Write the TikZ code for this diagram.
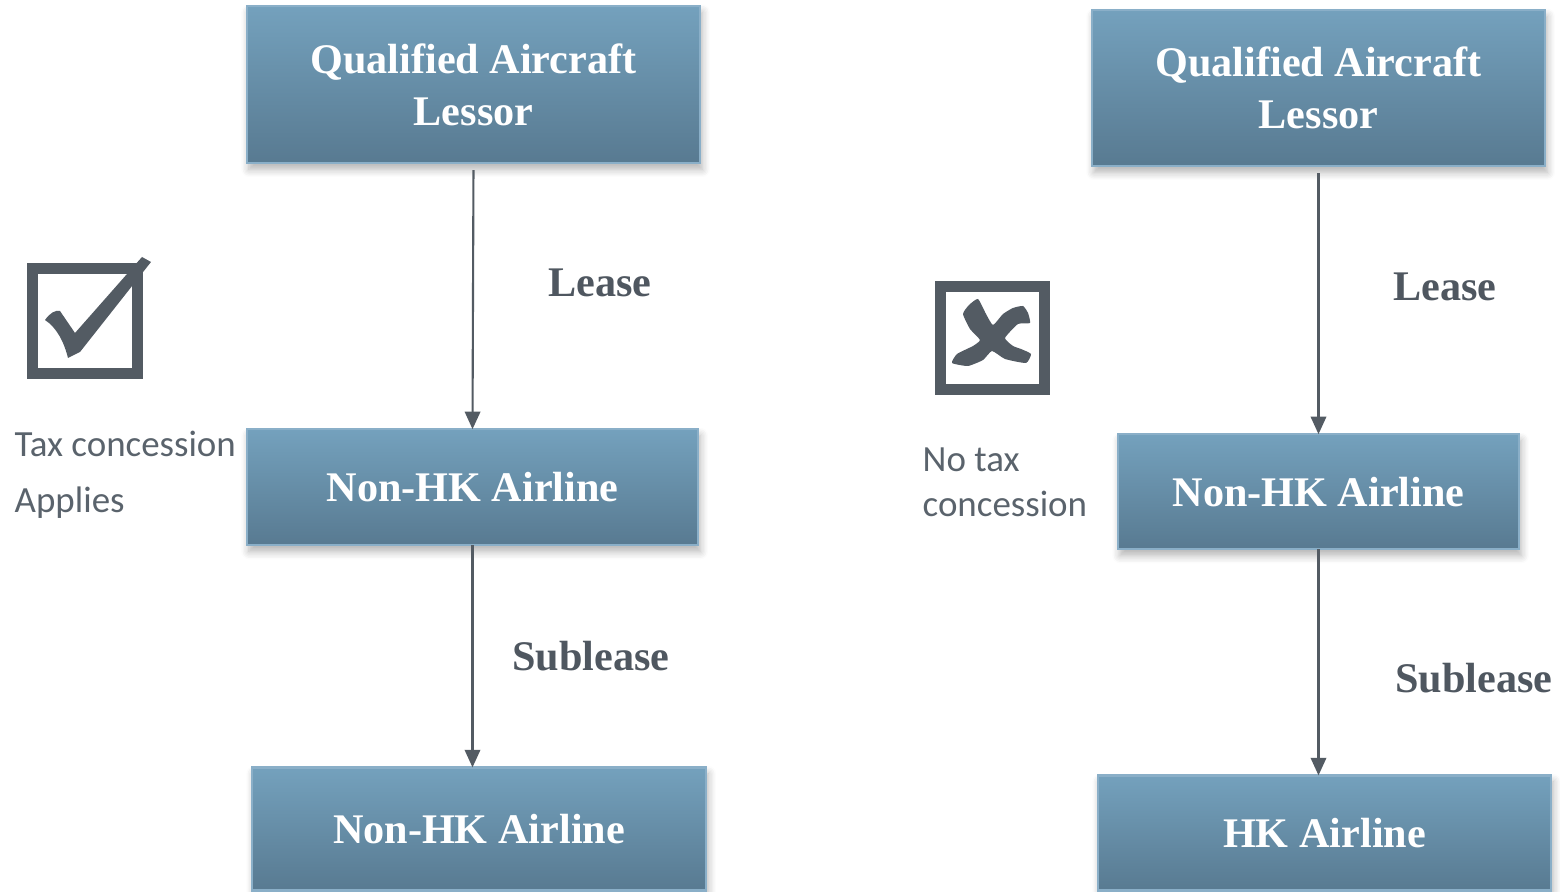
\documentclass[tikz,border=0pt]{standalone}
\usepackage{fontspec}
\setmainfont{Liberation Serif}
\newfontfamily\calibri{Carlito}
\usepackage{tikz}
\usetikzlibrary{arrows,arrows.meta,calc,positioning,shadows,shadows.blur,shapes}

\definecolor{boxtop}{HTML}{74A1BD}
\definecolor{boxbot}{HTML}{587A91}
\definecolor{boxedge}{HTML}{8AAFC8}
\definecolor{ink}{HTML}{4F5760}
\definecolor{icon}{HTML}{535B63}
\definecolor{note}{HTML}{5A636C}

\begin{document}
\begin{tikzpicture}[auto,x=0.01cm,y=-0.01cm,>={Triangle[length=5pt,width=4.4pt]}]
\tikzstyle{block} = [draw=boxedge, line width=0.7pt, rectangle, top color=boxtop, bottom color=boxbot, outer sep=0pt, text=white, align=center, font=\bfseries\fontsize{12}{14.8}\selectfont, blur shadow={shadow xshift=0.6pt, shadow yshift=-1.8pt, shadow blur steps=6, shadow blur radius=2.2pt, shadow opacity=30}]
\tikzstyle{lbl} = [text=ink, font=\bfseries\fontsize{12}{14.8}\selectfont]
\tikzstyle{txt} = [text=note, align=left, inner sep=0pt, anchor=north west]
\tikzstyle{link} = [->, draw=icon, line width=0.6pt]
\tikzstyle{frame} = [draw=icon, line width=3.1pt]

\useasboundingbox (0,0) rectangle (1560,892);

\node [block, minimum width=4.53cm, minimum height=1.57cm] (lessor1) at (473.5,84.5) {Qualified Aircraft\\Lessor};
\node [block, minimum width=4.51cm, minimum height=1.16cm, below = 2.66cm of lessor1, xshift=-0.01cm] (nonhk1) {Non-HK Airline};
\node [block, minimum width=4.54cm, minimum height=1.23cm, below = 2.22cm of nonhk1, xshift=0.065cm] (nonhk2) {Non-HK Airline};

\node [block, minimum width=4.53cm, minimum height=1.56cm] (lessor2) at (1318.5,88) {Qualified Aircraft\\Lessor};
\node [block, minimum width=4.01cm, minimum height=1.15cm, below = 2.68cm of lessor2] (nonhk3) {Non-HK Airline};
\node [block, minimum width=4.53cm, minimum height=1.15cm, below = 2.26cm of nonhk3, xshift=0.06cm] (hk1) {HK Airline};

\node [lbl] (lease1) at (600,283) {Lease};
\node [lbl] (sublease1) at (591,656) {Sublease};
\node [lbl] (lease2) at (1445,287) {Lease};
\node [lbl] (sublease2) at (1474,678) {Sublease};

\node [txt, font=\calibri\fontsize{10.5}{15.9}\selectfont] (yes) at (14,430) {Tax concession\\Applies};
\node [txt, font=\calibri\fontsize{10.5}{12.8}\selectfont] (no) at (922,447) {No tax\\concession};

\draw [link, shorten <=2pt] (lessor1.south) -- (nonhk1.north);
\draw [link] (nonhk1.south) -- (nonhk1.south |- nonhk2.north);
\draw [link, shorten <=2pt] (lessor2.south) -- (nonhk3.north);
\draw [link] (nonhk3.south) -- (nonhk3.south |- hk1.north);

\draw [frame] (32.5,268.5) rectangle (137.5,373.5);
\fill [icon] (45,320) .. controls (50,313) and (55,310) .. (60,311) -- (75,333) -- (142,257) -- (151,262) -- (80,352) -- (68,358) .. controls (64,342) and (57,328) .. cycle;

\draw [frame] (940.5,286.5) rectangle (1044.5,389.5);
\fill [icon] plot [smooth cycle, tension=0.3] coordinates {(978,299) (986,314) (993,325) (1003,314) (1013,308) (1023,306) (1028,313) (1030,323) (1018,324) (1005,338) (1013,346) (1021,349) (1031,354) (1026,363) (1005,359) (992,351) (983,360) (968,366) (952,363) (957,354) (973,346) (980,340) (970,329) (963,314) (969,305)};
\end{tikzpicture}
\end{document}
